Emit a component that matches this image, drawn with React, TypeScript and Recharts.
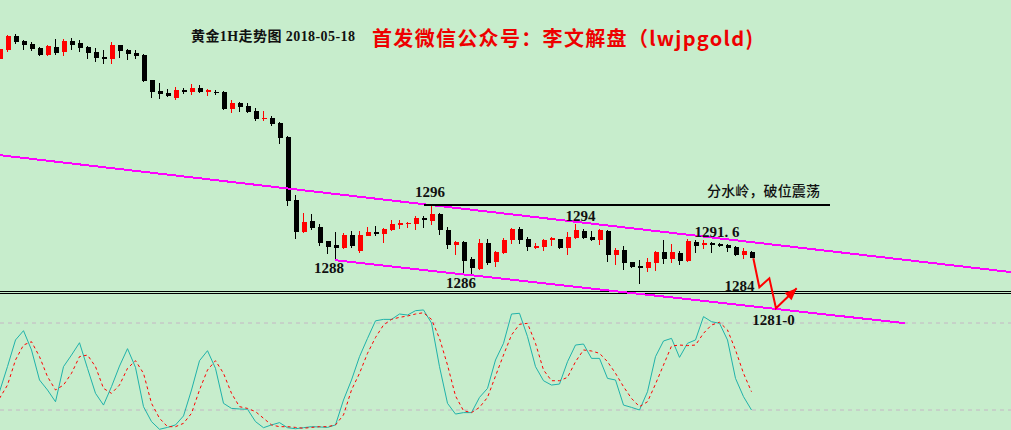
import React from "react";
import { Bar, Cell, ComposedChart, Line, ReferenceDot, ReferenceLine, XAxis, YAxis } from "recharts";

// gold 1H candles, 2018-05-18 (oldest first)
const opens = [
  1317.1, 1318.4, 1320.4, 1319.7, 1319.3, 1318.7, 1317.7, 1318.9, 1318.2, 1319.7,
  1319.4, 1318.9, 1318.1, 1317.4, 1317.1, 1319.1, 1318.4, 1318.0, 1317.7, 1314.1,
  1312.6, 1312.3, 1311.6, 1312.7, 1312.4, 1313.0, 1312.4, 1312.4, 1312.4, 1310.0,
  1310.9, 1310.4, 1309.7, 1308.5, 1308.7, 1308.0, 1306.0, 1297.0, 1292.4, 1294.0,
  1293.1, 1291.1, 1290.6, 1290.1, 1292.0, 1289.7, 1291.9, 1292.4, 1292.1, 1292.7,
  1293.4, 1293.6, 1293.6, 1294.4, 1294.0, 1295.0, 1292.7, 1290.6, 1291.0, 1288.6,
  1287.1, 1290.9, 1288.1, 1289.4, 1291.3, 1292.9, 1291.4, 1290.1, 1290.3, 1291.3,
  1291.4, 1290.1, 1291.6, 1292.6, 1291.7, 1291.3, 1292.6, 1289.1, 1289.9, 1288.1,
  1287.6, 1287.3, 1288.0, 1289.6, 1288.6, 1289.4, 1288.3, 1291.0, 1290.6, 1290.9,
  1290.7, 1290.6, 1290.3, 1289.1, 1289.6,
];
const highs = [
  1318.7, 1320.6, 1320.7, 1319.8, 1319.6, 1318.8, 1319.1, 1320.0, 1320.0, 1320.1,
  1319.9, 1319.0, 1318.7, 1318.4, 1319.6, 1319.2, 1318.5, 1318.4, 1317.9, 1314.2,
  1313.7, 1312.9, 1313.1, 1313.0, 1313.6, 1313.4, 1312.9, 1312.7, 1312.6, 1311.3,
  1311.0, 1310.9, 1310.1, 1309.7, 1309.0, 1308.1, 1306.1, 1297.7, 1295.1, 1295.0,
  1293.6, 1291.2, 1292.4, 1292.3, 1292.6, 1292.6, 1293.1, 1293.3, 1293.0, 1294.1,
  1294.1, 1293.8, 1294.7, 1294.7, 1296.1, 1295.1, 1293.1, 1291.1, 1291.1, 1288.9,
  1291.4, 1291.4, 1289.7, 1291.6, 1293.0, 1293.1, 1291.7, 1290.9, 1291.4, 1291.7,
  1291.5, 1292.4, 1293.6, 1292.9, 1292.6, 1292.9, 1292.7, 1290.1, 1290.4, 1288.2,
  1288.4, 1288.7, 1289.7, 1291.3, 1290.7, 1289.7, 1291.4, 1291.3, 1291.3, 1291.0,
  1290.9, 1290.7, 1290.4, 1290.1, 1289.7,
];
const lows = [
  1317.0, 1318.2, 1319.3, 1318.4, 1318.3, 1317.5, 1317.5, 1317.7, 1317.6, 1318.4,
  1318.1, 1317.1, 1316.7, 1316.4, 1316.4, 1317.3, 1317.0, 1317.1, 1313.9, 1311.6,
  1311.4, 1311.7, 1311.3, 1312.1, 1312.0, 1312.3, 1311.9, 1312.0, 1309.9, 1309.4,
  1309.6, 1309.4, 1308.3, 1308.3, 1307.6, 1305.0, 1296.1, 1291.4, 1292.3, 1292.7,
  1290.4, 1289.3, 1288.4, 1290.0, 1290.1, 1289.4, 1291.8, 1291.9, 1290.9, 1292.6,
  1292.9, 1293.0, 1292.7, 1293.0, 1293.4, 1292.0, 1290.0, 1289.1, 1286.4, 1286.1,
  1287.0, 1287.7, 1287.4, 1289.3, 1290.7, 1290.7, 1289.7, 1290.0, 1289.7, 1290.4,
  1290.0, 1289.1, 1291.5, 1291.4, 1291.2, 1290.6, 1288.1, 1287.7, 1287.0, 1287.3,
  1285.0, 1286.7, 1286.9, 1287.9, 1288.0, 1287.7, 1288.2, 1289.4, 1290.0, 1289.4,
  1290.3, 1289.6, 1289.0, 1288.6, 1288.7,
];
const closes = [
  1318.6, 1320.4, 1319.6, 1319.1, 1318.6, 1317.7, 1319.0, 1318.0, 1319.7, 1319.1,
  1318.7, 1318.0, 1317.3, 1317.1, 1319.1, 1318.3, 1317.9, 1317.6, 1314.0, 1312.4,
  1312.1, 1311.9, 1312.7, 1312.4, 1313.0, 1312.4, 1312.7, 1312.3, 1310.0, 1310.9,
  1310.3, 1309.6, 1308.6, 1308.7, 1307.9, 1305.9, 1296.9, 1292.4, 1293.9, 1293.0,
  1290.9, 1290.3, 1290.1, 1292.0, 1290.4, 1292.0, 1292.4, 1292.1, 1292.9, 1293.6,
  1293.7, 1293.7, 1294.4, 1294.1, 1295.0, 1292.7, 1290.6, 1291.0, 1288.3, 1287.3,
  1290.9, 1288.0, 1289.6, 1291.3, 1292.9, 1291.3, 1290.3, 1290.4, 1291.3, 1291.6,
  1290.1, 1291.7, 1292.7, 1291.6, 1291.3, 1292.7, 1289.1, 1289.9, 1288.0, 1287.4,
  1287.3, 1288.1, 1289.6, 1288.6, 1289.6, 1288.3, 1291.1, 1290.4, 1290.9, 1290.6,
  1290.4, 1290.1, 1289.1, 1289.7, 1288.7,
];

// stochastic oscillator (lower pane)
const stochK = [
  32.6, 50.0, 68.3, 74.7, 61.4, 40.7, 33.8, 25.7, 49.9, 57.9,
  66.4, 48.7, 31.5, 23.4, 36.1, 50.3, 62.3, 49.4, 22.3, 12.0,
  6.7, 8.0, 9.7, 15.9, 33.8, 54.0, 60.9, 48.7, 24.6, 21.1,
  20.7, 20.5, 12.0, 7.8, 9.7, 11.3, 7.8, 7.1, 7.8, 8.5,
  8.3, 8.0, 9.7, 26.9, 40.7, 56.8, 69.4, 81.5, 82.5, 82.5,
  86.2, 85.5, 88.5, 89.0, 80.0, 49.9, 24.6, 17.2, 18.2, 18.2,
  28.7, 34.9, 54.5, 66.0, 86.2, 86.7, 70.6, 49.9, 40.2, 37.2,
  37.9, 53.3, 64.8, 65.5, 55.6, 55.6, 41.8, 40.7, 23.4, 21.8,
  20.0, 32.6, 56.8, 67.6, 69.4, 56.3, 66.0, 68.3, 84.4, 80.9,
  79.8, 68.3, 41.8, 29.2, 20.0,
];
const stochD = [
  28.0, 37.2, 54.5, 64.8, 67.1, 56.8, 43.0, 33.8, 37.2, 45.3,
  56.8, 57.9, 49.9, 34.9, 31.5, 37.2, 48.7, 54.0, 45.3, 24.6,
  14.3, 8.5, 8.5, 10.8, 17.7, 33.8, 47.6, 54.0, 45.3, 31.5,
  22.3, 21.1, 18.9, 14.3, 9.7, 8.5, 8.5, 8.0, 7.4, 8.0,
  8.5, 8.5, 9.7, 16.6, 33.8, 45.3, 59.1, 70.0, 78.6, 82.5,
  83.9, 84.8, 86.2, 87.1, 82.5, 69.4, 51.0, 29.7, 19.5, 18.2,
  21.8, 28.7, 43.4, 57.9, 71.7, 79.1, 79.8, 66.0, 47.6, 40.2,
  40.2, 42.5, 53.3, 61.4, 60.7, 59.1, 53.3, 45.3, 36.1, 28.0,
  22.3, 25.7, 37.9, 51.0, 64.1, 64.8, 64.4, 64.8, 72.9, 78.6,
  80.5, 75.2, 61.4, 45.3, 32.6,
];
const stochLevels = [80, 20];

// drawn analysis objects, in (bar index, price)
const upperChannel = [{ i: 0.0625, p: 1303.4 }, { i: 126.4375, p: 1286.7 }];
const lowerChannel = [{ i: 41.94, p: 1288.4 }, { i: 113.19, p: 1279.4 }];
const watershed = [{ i: 53.06, p: 1296.3 }, { i: 103.81, p: 1296.3 }];
const supportLines = [1284.0, 1283.64];
const forecastPath = [
  { i: 94.23, p: 1288.67 },
  { i: 94.98, p: 1284.53 },
  { i: 96.23, p: 1285.81 },
  { i: 97.06, p: 1281.53 },
  { i: 99.65, p: 1284.39 },
];
const priceNotes = [
  { text: "1296", i: 53.81, p: 1298.14 },
  { text: "1288", i: 41.19, p: 1287.29 },
  { text: "1286", i: 57.69, p: 1285.14 },
  { text: "1294", i: 72.63, p: 1294.71 },
  { text: "1291. 6", i: 89.69, p: 1292.43 },
  { text: "1284", i: 92.5, p: 1284.71 },
  { text: "1281-0", i: 96.75, p: 1279.86 },
];
const watershedNote = { text: "分水岭，破位震荡", i: 95.5, p: 1298.43 };

const UP = "#ff0000";
const DOWN = "#000000";

const candles = opens.map((open, i) => {
  const lo = Math.min(open, closes[i]);
  const hi = Math.max(open, closes[i]);
  return {
    i,
    wick: [lows[i], highs[i]],
    body: [lo, Math.max(hi, lo + 0.15)],
    color: closes[i] >= open ? UP : DOWN,
  };
});
const stochData = stochK.map((k, i) => ({ i, k, d: stochD[i] }));

const X_DOMAIN: [number, number] = [0.0625, 126.4375];
const BG = "#c7edcc";
const SERIF = "'Liberation Serif', 'Noto Sans CJK SC', serif";

function ArrowDot(props: any) {
  const { cx, cy, index, points } = props;
  if (index !== forecastPath.length - 1 || cx == null) return <g key={`fa-${index}`} />;
  let dx = 0.724;
  let dy = -0.69;
  if (points && points.length > 1) {
    const prev = points[points.length - 2];
    const len = Math.hypot(cx - prev.x, cy - prev.y) || 1;
    dx = (cx - prev.x) / len;
    dy = (cy - prev.y) / len;
  }
  const bx = cx - dx * 12;
  const by = cy - dy * 12;
  const pts = [
    [cx, cy],
    [bx - dy * 5, by + dx * 5],
    [bx + dy * 5, by - dx * 5],
  ];
  return <polygon key="fa-head" points={pts.map((q) => q.join(",")).join(" ")} fill="#ff0000" />;
}

function noteShape(text: string, font: string, size: number, weight: string | number, width?: number) {
  return (props: any) => (
    <text
      x={props.cx}
      y={props.cy}
      textAnchor="middle"
      dominantBaseline="central"
      fontFamily={font}
      fontSize={size}
      fontWeight={weight}
      fill="#111111"
      textLength={width}
    >
      {text}
    </text>
  );
}

export default function App() {
  return (
    <div
      style={{
        position: "absolute",
        left: 0,
        top: 0,
        width: 1011,
        height: 430,
        overflow: "hidden",
        background: BG,
      }}
    >
      {/* lower pane: stochastic */}
      <div style={{ position: "absolute", left: 0, top: 294 }}>
        <ComposedChart width={1011} height={145} data={stochData} margin={{ top: 0, right: 0, bottom: 0, left: 0 }}>
          <XAxis type="number" dataKey="i" domain={X_DOMAIN} allowDataOverflow hide />
          <YAxis type="number" domain={[0, 100]} allowDataOverflow hide />
          {stochLevels.map((v) => (
            <ReferenceLine key={v} y={v} stroke="#c4b6c4" strokeDasharray="4 4" strokeWidth={1} />
          ))}
          <Line dataKey="k" stroke="#20b2aa" strokeWidth={1} dot={false} isAnimationActive={false} />
          <Line dataKey="d" stroke="#ff0000" strokeWidth={1} strokeDasharray="3 3" dot={false} isAnimationActive={false} />
        </ComposedChart>
      </div>

      {/* upper pane: price */}
      <div style={{ position: "absolute", left: 0, top: 0 }}>
        <ComposedChart width={1011} height={430} data={candles} margin={{ top: 0, right: 0, bottom: 0, left: 0 }}>
          <XAxis type="number" dataKey="i" domain={X_DOMAIN} allowDataOverflow hide />
          <XAxis xAxisId="body" type="number" dataKey="i" domain={X_DOMAIN} allowDataOverflow hide />
          <YAxis type="number" domain={[1264.1429, 1325.5714]} allowDataOverflow hide />
          {supportLines.map((v) => (
            <ReferenceLine key={v} y={v} stroke="#000000" strokeWidth={1} shapeRendering="crispEdges" />
          ))}
          <ReferenceLine
            segment={[{ x: upperChannel[0].i, y: upperChannel[0].p }, { x: upperChannel[1].i, y: upperChannel[1].p }]}
            stroke="#ff00ff"
            strokeWidth={2}
            shapeRendering="crispEdges"
            ifOverflow="visible"
          />
          <ReferenceLine
            segment={[{ x: lowerChannel[0].i, y: lowerChannel[0].p }, { x: lowerChannel[1].i, y: lowerChannel[1].p }]}
            stroke="#ff00ff"
            strokeWidth={2}
            shapeRendering="crispEdges"
            ifOverflow="visible"
          />
          <ReferenceLine
            segment={[{ x: watershed[0].i, y: watershed[0].p }, { x: watershed[1].i, y: watershed[1].p }]}
            stroke="#000000"
            strokeWidth={2}
            shapeRendering="crispEdges"
            ifOverflow="visible"
          />
          <Bar dataKey="wick" barSize={1} isAnimationActive={false} shapeRendering="crispEdges">
            {candles.map((c) => (
              <Cell key={`w${c.i}`} fill={c.color} />
            ))}
          </Bar>
          <Bar dataKey="body" xAxisId="body" barSize={5} isAnimationActive={false} shapeRendering="crispEdges">
            {candles.map((c) => (
              <Cell key={`b${c.i}`} fill={c.color} />
            ))}
          </Bar>
          <Line
            data={forecastPath}
            dataKey="p"
            stroke="#ff0000"
            strokeWidth={2}
            dot={ArrowDot}
            activeDot={false}
            isAnimationActive={false}
          />
          {priceNotes.map((n) => (
            <ReferenceDot
              key={n.text}
              x={n.i}
              y={n.p}
              r={0}
              ifOverflow="visible"
              shape={noteShape(n.text, SERIF, 15, "bold")}
            />
          ))}
          <ReferenceDot
            x={watershedNote.i}
            y={watershedNote.p}
            r={0}
            ifOverflow="visible"
            shape={noteShape(watershedNote.text, "'Noto Sans CJK SC', sans-serif", 14, 500, 113)}
          />
        </ComposedChart>
      </div>

      {/* title */}
      <svg width={1011} height={60} style={{ position: "absolute", left: 0, top: 0 }}>
        <text
          x={191}
          y={36}
          dominantBaseline="central"
          fontFamily={SERIF}
          fontSize={14}
          fontWeight="bold"
          fill="#111111"
          textLength={164}
        >
          黄金1H走势图 2018-05-18
        </text>
        <text
          x={372}
          y={37}
          dominantBaseline="central"
          fontFamily="'Noto Sans CJK SC', sans-serif"
          fontSize={20}
          fontWeight="bold"
          fill="#ee0000"
          textLength={381}
        >
          首发微信公众号：李文解盘（lwjpgold)
        </text>
      </svg>
    </div>
  );
}
